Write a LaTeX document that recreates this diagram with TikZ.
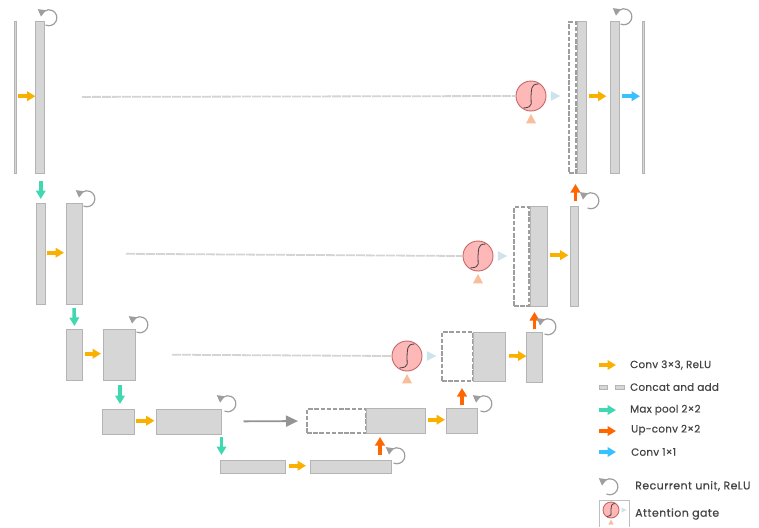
\documentclass[tikz,border=0pt]{standalone}
\usepackage{fontspec}
\setmainfont{Poppins}
\usetikzlibrary{arrows.meta}
\definecolor{cYellow}{HTML}{F9B000}
\definecolor{cTeal}{HTML}{40D8B0}
\definecolor{cOrange}{HTML}{FF6600}
\definecolor{cBlue}{HTML}{38C0FF}
\definecolor{cBox}{HTML}{D6D6D6}
\definecolor{cEdge}{HTML}{B4B4B4}
\definecolor{cPink}{HTML}{FFB8B8}
\definecolor{cPinkEdge}{HTML}{C46666}
\definecolor{cLightBlue}{HTML}{CDE4EC}
\definecolor{cPeach}{HTML}{F9BD9C}
\definecolor{cSkip}{HTML}{D4D4D4}
\definecolor{cText}{HTML}{444444}
\tikzset{
  x=1pt,y=-1pt,
  blockbox/.style={draw=cEdge,fill=cBox,line width=.8pt,inner sep=0pt,outer sep=0pt},
  dashbox/.style={draw=black!38,fill=white,line width=1.5pt,dash pattern=on 4.5pt off 1.7pt,inner sep=0pt,outer sep=0pt},
  flow/.style={line width=3.6pt,-{Triangle[length=8.5pt,width=9.5pt]}},
  yellowflow/.style={flow,draw=cYellow,color=cYellow,transform canvas={yshift=.8pt}},
  tealflow/.style={flow,draw=cTeal,color=cTeal},
  orangeflow/.style={flow,draw=cOrange,color=cOrange},
  blueflow/.style={flow,draw=cBlue,color=cBlue,transform canvas={yshift=.8pt}},
  skiplink/.style={draw=cSkip,line width=1.8pt,dash pattern=on 9pt off 1pt},
  recur/.style={draw=black!38,line width=1.2pt,-{Triangle[length=7pt,width=8pt]}},
  gate/.style={circle,draw=cPinkEdge,fill=cPink,line width=.9pt,inner sep=0pt,outer sep=0pt},
  legendtext/.style={anchor=west,inner sep=0pt,text=cText,font=\fontsize{10.4}{12}\selectfont\addfontfeature{FakeBold=0.6,LetterSpace=2.5}},
  legendbig/.style={anchor=west,inner sep=0pt,text=cText,font=\fontsize{11}{13}\selectfont\addfontfeature{FakeBold=0.6,LetterSpace=4}},
}
\newcommand{\bx}[6][blockbox]{%
  \pgfmathsetmacro{\bw}{#5-#3}\pgfmathsetmacro{\bh}{#6-#4}%
  \pgfmathsetmacro{\bcx}{(#3+#5)/2}\pgfmathsetmacro{\bcy}{(#4+#6)/2}%
  \node[#1,minimum width=\bw pt,minimum height=\bh pt] (#2) at (\bcx,\bcy) {};}
\newcommand{\rec}[2]{\draw[recur] ([xshift=-3.5pt,yshift=-7pt]#1,#2) arc[start angle=-115,end angle=172,radius=8pt];}
\newcommand{\gatesym}[4]{% name cx cy radius
  \node[gate,minimum size=#4*2pt] (#1) at (#2,#3) {};
  \draw[black!75,line width=.8pt] ([xshift=-.5*#4pt,yshift=-.8*#4pt]#1.center)
    .. controls ([xshift=.25*#4pt,yshift=-.75*#4pt]#1.center) and ([xshift=-.05*#4pt,yshift=-.4*#4pt]#1.center) .. (#1.center)
    .. controls ([xshift=.05*#4pt,yshift=.4*#4pt]#1.center) and ([xshift=-.05*#4pt,yshift=.8*#4pt]#1.center) .. ([xshift=.5*#4pt,yshift=.8*#4pt]#1.center);}
\newcommand{\gatetris}[3]{% cx cy radius
  \fill[cLightBlue] ([xshift=1.33*#3pt]#1,#2) -- ++(0,-.32*#3) -- ++(.62*#3,.32*#3) -- ++(-.62*#3,.32*#3) -- cycle;
  \fill[cPeach] ([yshift=-1.2*#3pt]#1,#2) -- ++(-.33*#3,.62*#3) -- ++(.66*#3,0) -- cycle;}
\begin{document}
\begin{tikzpicture}
\useasboundingbox (0,0) rectangle (759,527);
% encoder
\bx{inp}{14}{21}{16.5}{173}
\bx{ea}{35.5}{21}{44}{173}
\bx{eb}{36.5}{203}{45}{304}
\bx{ec}{66}{203}{82}{304}
\bx{ed}{66.5}{329}{82.5}{380}
\bx{ee}{103}{329}{135}{380}
\bx{ef}{102}{409}{134}{434}
\bx{eg}{156.5}{409}{221.5}{434}
\bx{bta}{220.5}{460}{285.5}{473}
\bx{btb}{310}{460}{391}{473}
% decoder
\bx[dashbox]{dd}{307}{409}{366}{433}
\bx{da}{366}{408}{425}{433}
\bx{db}{446}{408}{477}{433}
\bx[dashbox]{dc}{442}{332}{473}{381}
\bx{de}{473}{332}{505}{381}
\bx{df}{526.5}{332}{542.5}{382}
\bx[dashbox]{dg}{514}{207}{529}{306}
\bx{dh}{530}{206}{547}{306}
\bx{di}{570.5}{206}{578.5}{306}
\bx[dashbox]{dj}{569}{22}{576}{173}
\bx{dk}{577}{21}{586}{173}
\bx{dl}{610.5}{21}{619}{173}
\bx{out}{642}{21}{644.5}{173}
% gates
\gatesym{ga}{531}{96}{15}\gatetris{531}{96}{15}
\gatesym{gb}{478}{256}{15}\gatetris{478}{256}{15}
\gatesym{gc}{407}{356}{15}\gatetris{407}{356}{15}
% skip links
\draw[skiplink,shorten <=38pt] (ea.east) -- (ga.west);
\draw[skiplink,shorten <=44pt] (ec.east) -- (gb.west);
\draw[skiplink,shorten <=37pt] (ee.east) -- (gc.west);
% conv
\draw[yellowflow,shorten <=1pt] (inp.east) -- (ea.west);
\draw[yellowflow,shorten <=2pt,shorten >=2pt] (eb.east) -- (ec.west);
\draw[yellowflow,shorten <=2pt,shorten >=2pt] (ed.east) -- (ee.west);
\draw[yellowflow,shorten <=2pt,shorten >=2pt] (ef.east) -- (eg.west);
\draw[yellowflow,shorten <=3.5pt,shorten >=4pt] (bta.east) -- (btb.west);
\draw[yellowflow,shorten <=3pt,shorten >=1pt] (da.east) -- (db.west);
\draw[yellowflow,shorten <=4pt] (de.east) -- (df.west);
\draw[yellowflow,shorten <=3pt,shorten >=2pt] (dh.east) -- (di.west);
\draw[yellowflow,shorten <=3pt,shorten >=4pt] (dk.east) -- (dl.west);
\draw[blueflow,shorten <=3pt,shorten >=2pt] (dl.east) -- (out.west);
% pool
\draw[tealflow,shorten <=8pt,shorten >=4pt] (ea.south -| eb.north) -- (eb.north);
\draw[tealflow,shorten <=4pt,shorten >=3pt] (ec.south) -- (ed.north);
\draw[tealflow,shorten <=5pt,shorten >=5pt,transform canvas={xshift=2pt}] (ee.south -| ef.north) -- (ef.north);
\draw[tealflow,shorten <=3pt,shorten >=5pt] (eg.south east) -- (eg.south east |- bta.north);
% up-conv
\coordinate (upA) at (380,460);
\draw[orangeflow,shorten <=5pt,shorten >=4pt] (upA) -- (upA |- da.south);
\draw[orangeflow,shorten <=3pt,shorten >=7pt,transform canvas={xshift=.5pt}] (db.north) -- (db.north |- dc.south);
\draw[orangeflow,shorten <=3pt,shorten >=6pt] (df.north) -- (df.north |- dg.south);
\draw[orangeflow,shorten <=5pt,shorten >=11pt,transform canvas={xshift=1pt}] (di.north) -- (di.north |- dj.south);
% bottleneck copy
\draw[draw=black!42,line width=1.8pt,-{Triangle[length=12pt,width=11pt]},color=black!42,shorten <=22pt,shorten >=9pt] (eg.east) -- (dd.west);
% recurrent
\rec{49}{18}\rec{87}{199}\rec{140}{325}\rec{228}{404}\rec{397}{456}\rec{484}{404}\rec{548}{327}\rec{591}{201}\rec{624}{17}
% legend
\coordinate (lgA) at (599,365);\coordinate (lgAe) at (616,365);
\coordinate (lgB) at (599,410);\coordinate (lgBe) at (616,410);
\coordinate (lgC) at (599,431);\coordinate (lgCe) at (616,431);
\coordinate (lgD) at (599,452);\coordinate (lgDe) at (616,452);
\draw[flow,cYellow] (lgA) -- (lgAe);
\draw[tealflow] (lgB) -- (lgBe);
\draw[orangeflow] (lgC) -- (lgCe);
\draw[flow,cBlue] (lgD) -- (lgDe);
\bx{lgr}{599}{385}{607}{389}
\bx{lgs}{615}{385}{624}{389}
\rec{610}{487}
\node[legendtext] (t1) at (630,365) {Conv 3×3, ReLU};
\node[legendtext] (t2) at (630,387) {Concat and add};
\node[legendtext] (t3) at (630,410) {Max pool 2×2};
\node[legendtext] (t4) at (631,430) {Up-conv 2×2};
\node[legendtext] (t5) at (631,452) {Conv 1×1};
\node[legendbig] (t6) at (635,486) {Recurrent unit, ReLU};
\node[legendbig] (t7) at (635,514) {Attention gate};
\draw[black!25,line width=.6pt] (599,527) -- (599,500) -- (629.5,500) -- (629.5,527);
\gatesym{gl}{611}{510}{8}\gatetris{611}{510}{8}
\end{tikzpicture}
\end{document}
